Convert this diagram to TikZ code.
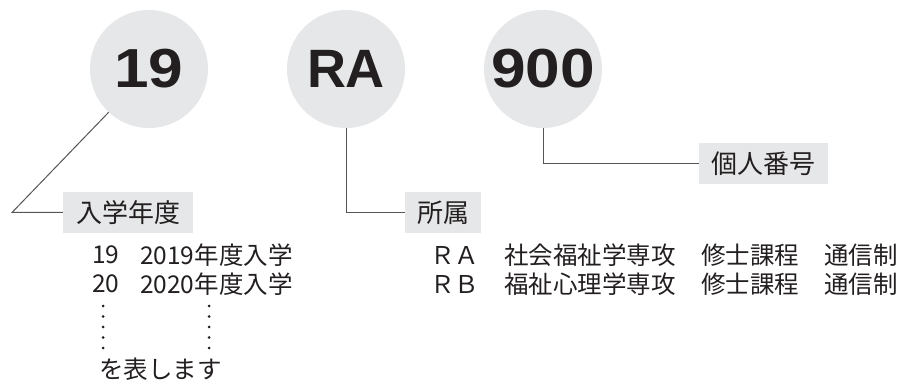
\documentclass[tikz,border=0pt]{standalone}
\usepackage{fontspec}
\setmainfont{Noto Sans CJK JP}
\newfontfamily\numfont{Liberation Sans}
\newfontfamily\widenumfont{Liberation Sans}[FakeStretch=1.13]
\definecolor{circfill}{HTML}{E6E7E8}
\definecolor{ink}{HTML}{231F20}
\definecolor{linec}{HTML}{555555}
\begin{document}
\begin{tikzpicture}[x=1pt,y=-1pt,
  circ/.style={circle,fill=circfill,minimum size=118pt,inner sep=0pt,text=ink},
  numtxt/.style={font=\widenumfont\bfseries\fontsize{55}{55}\selectfont},
  lettxt/.style={font=\numfont\bfseries\fontsize{54}{54}\selectfont},
  labelbox/.style={rectangle,fill=circfill,minimum height=41pt,inner sep=0pt,
    font=\fontsize{26}{26}\selectfont,text=ink},
  body/.style={anchor=west,inner sep=0pt,font=\fontsize{24.5}{24.5}\selectfont,text=ink},
  conn/.style={draw=linec,line width=1pt}]
\useasboundingbox (0,0) rectangle (903,390);
% circles
\node[circ,numtxt] (c1) at (149,69) {19};
\node[circ,lettxt] (c2) at (346,69) {RA};
\node[circ,numtxt] (c3) at (543,69) {900};
% label boxes
\node[labelbox,minimum width=130pt] (b1) at (128,212.5) {入学年度};
\node[labelbox,minimum width=76pt] (b2) at (443,212.5) {所属};
\node[labelbox,minimum width=129pt] (b3) at (763.5,163.5) {個人番号};
% connectors
\coordinate (k1) at (12,212.5);
\draw[conn] (c1.227) -- (k1) -- (b1.west);
\draw[conn] (c2.south) |- (b2.west);
\draw[conn] (c3.south) |- (b3.west);
% left text
\node[body] (l1a) at (92,255) {19};
\node[body] (l1b) at (140,255) {2019年度入学};
\node[body] (l2a) at (92,284) {20};
\node[body] (l2b) at (140,284) {2020年度入学};
\foreach \yy in {306,316.5,327,337.5,348}{
  \fill[ink] (103,\yy) circle (1.5pt);
  \fill[ink] (209,\yy) circle (1.5pt);
}
\node[body] (l3) at (99,369) {を表します};
% right text
\node[body] (r1a) at (430,255) {ＲＡ};
\node[body] (r1b) at (504,255) {社会福祉学専攻};
\node[body] (r1c) at (701,255) {修士課程};
\node[body] (r1d) at (824,255) {通信制};
\node[body] (r2a) at (430,284) {ＲＢ};
\node[body] (r2b) at (504,284) {福祉心理学専攻};
\node[body] (r2c) at (701,284) {修士課程};
\node[body] (r2d) at (824,284) {通信制};
\end{tikzpicture}
\end{document}
